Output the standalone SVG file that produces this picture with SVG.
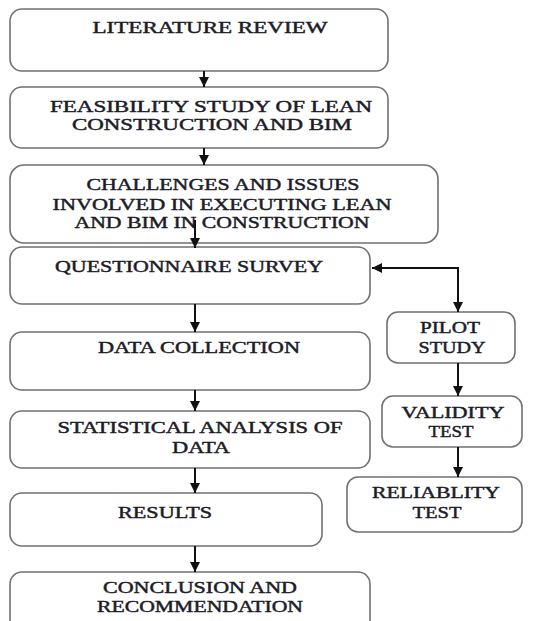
<svg xmlns="http://www.w3.org/2000/svg" width="547" height="621" viewBox="0 0 547 621">
<defs>
<marker id="ah" viewBox="0 0 10 10" refX="10" refY="5" markerWidth="10" markerHeight="10" markerUnits="userSpaceOnUse" orient="auto-start-reverse">
<path d="M0,0 L10,5 L0,10 z" fill="#111"/>
</marker>
<style>
.box{fill:#fff;stroke:#707070;stroke-width:1.6}
.t{font-family:"Liberation Serif","Times New Roman",serif;font-size:16.5px;fill:#1c1c28;stroke:#1c1c28;stroke-width:0.45;text-anchor:middle}
.c{fill:none;stroke:#111;stroke-width:2}
</style>
</defs>
<rect width="547" height="621" fill="#fff"/>
<g id="n1"><rect class="box" x="10" y="9" width="378" height="62" rx="12"/>
<text class="t" x="210" y="33" textLength="235" lengthAdjust="spacingAndGlyphs">LITERATURE REVIEW</text></g>
<g id="n2"><rect class="box" x="10" y="87" width="378" height="61" rx="12"/>
<text class="t" x="211" y="112" textLength="322" lengthAdjust="spacingAndGlyphs">FEASIBILITY STUDY OF LEAN</text>
<text class="t" x="212" y="130" textLength="280" lengthAdjust="spacingAndGlyphs">CONSTRUCTION AND BIM</text></g>
<g id="n3"><rect class="box" x="10" y="165" width="428" height="78" rx="14"/>
<text class="t" x="223" y="190" textLength="273" lengthAdjust="spacingAndGlyphs">CHALLENGES AND ISSUES</text>
<text class="t" x="222" y="210" textLength="339" lengthAdjust="spacingAndGlyphs">INVOLVED IN EXECUTING LEAN</text>
<text class="t" x="222" y="228" textLength="295" lengthAdjust="spacingAndGlyphs">AND BIM IN CONSTRUCTION</text></g>
<g id="n4"><rect class="box" x="10" y="247" width="360" height="57" rx="12"/>
<text class="t" x="189" y="272" textLength="268" lengthAdjust="spacingAndGlyphs">QUESTIONNAIRE SURVEY</text></g>
<g id="n5"><rect class="box" x="10" y="332" width="360" height="58" rx="12"/>
<text class="t" x="199" y="353" textLength="202" lengthAdjust="spacingAndGlyphs">DATA COLLECTION</text></g>
<g id="n6"><rect class="box" x="10" y="411" width="360" height="57" rx="12"/>
<text class="t" x="200" y="433" textLength="285" lengthAdjust="spacingAndGlyphs">STATISTICAL ANALYSIS OF</text>
<text class="t" x="201" y="453" textLength="58" lengthAdjust="spacingAndGlyphs">DATA</text></g>
<g id="n7"><rect class="box" x="10" y="493" width="312" height="53" rx="12"/>
<text class="t" x="165" y="518" textLength="94" lengthAdjust="spacingAndGlyphs">RESULTS</text></g>
<g id="n8"><rect class="box" x="10" y="572" width="360" height="70" rx="12"/>
<text class="t" x="200" y="593" textLength="194" lengthAdjust="spacingAndGlyphs">CONCLUSION AND</text>
<text class="t" x="200" y="612" textLength="206" lengthAdjust="spacingAndGlyphs">RECOMMENDATION</text></g>
<g id="n9"><rect class="box" x="387" y="312" width="128" height="51" rx="11"/>
<text class="t" x="450" y="333" textLength="60" lengthAdjust="spacingAndGlyphs">PILOT</text>
<text class="t" x="452" y="353" textLength="67" lengthAdjust="spacingAndGlyphs">STUDY</text></g>
<g id="n10"><rect class="box" x="382" y="396" width="140" height="51" rx="11"/>
<text class="t" x="453" y="418" textLength="103" lengthAdjust="spacingAndGlyphs">VALIDITY</text>
<text class="t" x="451" y="437" textLength="45" lengthAdjust="spacingAndGlyphs">TEST</text></g>
<g id="n11"><rect class="box" x="347" y="477" width="175" height="55" rx="11"/>
<text class="t" x="436" y="498" textLength="128" lengthAdjust="spacingAndGlyphs">RELIABLITY</text>
<text class="t" x="437" y="518" textLength="49" lengthAdjust="spacingAndGlyphs">TEST</text></g>
<g id="connectors">
<line class="c" x1="204" y1="71" x2="204" y2="87" marker-end="url(#ah)"/>
<line class="c" x1="204" y1="148" x2="204" y2="165" marker-end="url(#ah)"/>
<line class="c" x1="195" y1="220" x2="195" y2="248" marker-end="url(#ah)"/>
<line class="c" x1="195" y1="304" x2="195" y2="332" marker-end="url(#ah)"/>
<line class="c" x1="195" y1="390" x2="195" y2="411" marker-end="url(#ah)"/>
<line class="c" x1="195" y1="468" x2="195" y2="493" marker-end="url(#ah)"/>
<line class="c" x1="195" y1="546" x2="195" y2="572" marker-end="url(#ah)"/>
<path class="c" d="M458,312 V268 H372" marker-start="url(#ah)" marker-end="url(#ah)"/>
<line class="c" x1="458" y1="363" x2="458" y2="396" marker-end="url(#ah)"/>
<line class="c" x1="458" y1="447" x2="458" y2="477" marker-end="url(#ah)"/>
</g>
</svg>
